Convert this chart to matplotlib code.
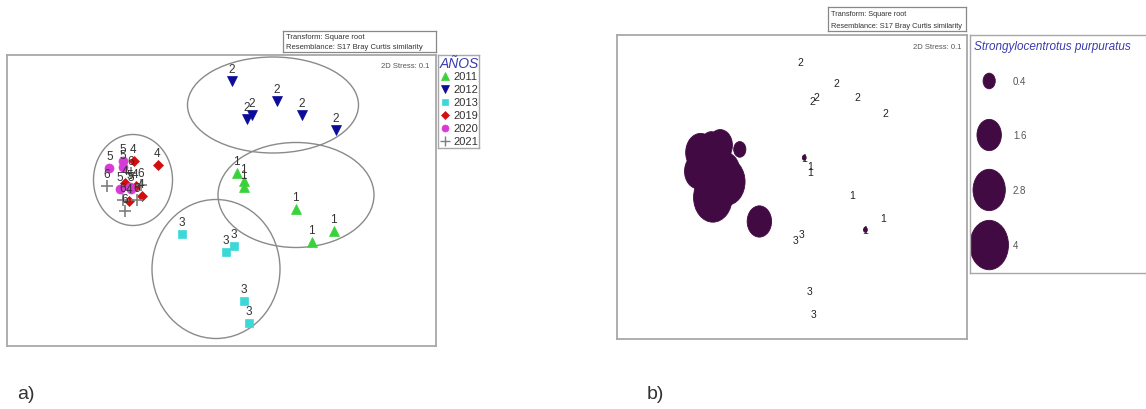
import numpy as np
import matplotlib
matplotlib.use("Agg")
import matplotlib.pyplot as plt
from matplotlib.patches import Ellipse

plt.rcParams['font.family'] = ['Liberation Sans', 'DejaVu Sans']

# nMDS coordinates per year (same ordination in both panels)
years = ['2011', '2012', '2013', '2019', '2020', '2021']
site_labels = ['1', '2', '3', '4', '5', '6']

x_2011 = [0.15, 0.22, 0.22, 0.74, 0.90, 1.12]
y_2011 = [0.28, 0.20, 0.14, -0.08, -0.41, -0.30]
x_2012 = [0.10, 0.25, 0.30, 0.55, 0.80, 1.14]
y_2012 = [1.20, 0.82, 0.86, 1.00, 0.86, 0.71]
x_2013 = [-0.40, 0.04, 0.12, 0.22, 0.27]
y_2013 = [-0.33, -0.51, -0.45, -1.00, -1.22]
x_2019 = [-0.88, -0.64, -0.97, -0.80, -0.93, -0.86]
y_2019 = [0.40, 0.36, 0.18, 0.05, 0.00, 0.15]
x_2020 = [-1.12, -0.99, -0.99, -1.02, -0.91, -0.92]
y_2020 = [0.33, 0.40, 0.34, 0.12, 0.12, 0.14]
x_2021 = [-1.15, -0.97, -0.99, -0.85, -0.91, -0.81]
y_2021 = [0.15, -0.10, 0.01, 0.01, 0.28, 0.16]

# Strongylocentrotus purpuratus abundance (bubble overlay)
sp_2011 = [0.04, 0, 0, 0, 0.04, 0]
sp_2012 = [0, 0, 0, 0, 0, 0]
sp_2013 = [1.6, 0, 0, 0, 0]
sp_2019 = [1.6, 0.4, 2.0, 3.6, 2.8, 2.0]
sp_2020 = [2.4, 1.2, 1.6, 2.8, 2.4, 2.8]
sp_2021 = [2.0, 4.0, 2.8, 2.4, 2.0, 2.0]
bubble_legend = [0.4, 1.6, 2.8, 4]

# similarity clusters (centre x, centre y, width, height)
cluster_cx = [0.515, 0.745, -0.055, -0.885]
cluster_cy = [0.955, 0.055, -0.685, 0.205]
cluster_w = [1.71, 1.56, 1.28, 0.79]
cluster_h = [0.96, 1.05, 1.39, 0.91]

xs = [x_2011, x_2012, x_2013, x_2019, x_2020, x_2021]
ys = [y_2011, y_2012, y_2013, y_2019, y_2020, y_2021]
sps = [sp_2011, sp_2012, sp_2013, sp_2019, sp_2020, sp_2021]

markers = ['^', 'v', 's', 'D', 'o', '+']
colors = ['#3ad23a', '#0c0c99', '#3cd8d8', '#d01010', '#d83ad8', '#7f7f7f']
msizes = [7, 7, 6, 5.5, 6.5, 8]

W, H = 1146, 410
fig = plt.figure(figsize=(W / 100, H / 100), dpi=100)


def px_axes(x0, y0, x1, y1):
    return fig.add_axes([x0 / W, 1 - y1 / H, (x1 - x0) / W, (y1 - y0) / H])


def frame(ax, color='#a8a8a8', lw=1.3):
    ax.set_xticks([])
    ax.set_yticks([])
    for s in ax.spines.values():
        s.set_color(color)
        s.set_linewidth(lw)


XL = (-2.145, 2.145)
YL = (-1.455, 1.455)
bubble_k = 0.2366  # diameter per sqrt(abundance), in ordination units

# ---------- panel a ----------
ax_a = px_axes(7, 56, 436, 347)
ax_a.set_xlim(XL)
ax_a.set_ylim(YL)
frame(ax_a)
for cx, cy, w, h in zip(cluster_cx, cluster_cy, cluster_w, cluster_h):
    ax_a.add_patch(Ellipse((cx, cy), w, h, fill=False, ec='#8a8a8a', lw=1.0))
for i in range(len(years)):
    ax_a.plot(xs[i], ys[i], linestyle='none', marker=markers[i], color=colors[i],
              ms=msizes[i], mew=1.2 if markers[i] == '+' else 0.5)
    for x, y in zip(xs[i], ys[i]):
        ax_a.annotate(site_labels[i], (x, y), xytext=(0, 8), textcoords='offset points',
                      ha='center', va='center', fontsize=8.5, color='#333333')
ax_a.text(0.985, 0.975, '2D Stress: 0.1', transform=ax_a.transAxes, ha='right',
          va='top', fontsize=5.5, color='#555555')

# year legend
ax_l = px_axes(438, 56, 479, 149)
ax_l.set_xlim(0, 41)
ax_l.set_ylim(93, 0)
frame(ax_l, lw=1.0)
ax_l.text(21, 8, 'AÑOS', ha='center', va='center', fontsize=10, style='italic',
          color='#3b3bb0')
for i, yr in enumerate(years):
    yy = 21 + 13 * i
    ax_l.plot([7], [yy], linestyle='none', marker=markers[i], color=colors[i],
              ms=msizes[i] - 1.5, mew=1.0 if markers[i] == '+' else 0.5)
    ax_l.text(15, yy, yr, ha='left', va='center', fontsize=8, color='#333333')

# transform / resemblance box
ax_t = px_axes(283, 32, 436, 53)
frame(ax_t, color='#888888', lw=0.9)
ax_t.text(0.02, 0.72, 'Transform: Square root', transform=ax_t.transAxes,
          ha='left', va='center', fontsize=5.5, color='#333333')
ax_t.text(0.02, 0.25, 'Resemblance: S17 Bray Curtis similarity', transform=ax_t.transAxes,
          ha='left', va='center', fontsize=5.5, color='#333333')

fig.text(17 / W, 1 - 395 / H, 'a)', ha='left', va='center', fontsize=14, color='#333333')

# ---------- panel b ----------
ax_b = px_axes(617, 36, 967, 340)
ax_b.set_xlim(XL)
ax_b.set_ylim(YL)
frame(ax_b)
bub_color = '#420a42'
for i in range(len(years)):
    for x, y, v in zip(xs[i], ys[i], sps[i]):
        ax_b.text(x, y, site_labels[i], ha='center', va='center', fontsize=7.5,
                  color='#222222', zorder=2)
        if v > 0:
            d = bubble_k * np.sqrt(v)
            ax_b.add_patch(Ellipse((x, y), d, d, fc=bub_color, ec=bub_color,
                                   lw=0.6, zorder=3))
ax_b.text(0.985, 0.975, '2D Stress: 0.1', transform=ax_b.transAxes, ha='right',
          va='top', fontsize=5.5, color='#555555')

# bubble size legend, same ordination scale as panel b
ax_bl = px_axes(970, 36, 1150, 274)
ax_bl.set_xlim(0, 180 / 81.6)
ax_bl.set_ylim(238 / 104.5, 0)
frame(ax_bl, lw=1.0)
ax_bl.text(0.02, 0.955, 'Strongylocentrotus purpuratus', transform=ax_bl.transAxes,
           ha='left', va='center', fontsize=8.5, style='italic', color='#3b3bb0')
leg_y = [0.44, 0.957, 1.483, 2.01]
for v, yy in zip(bubble_legend, leg_y):
    d = bubble_k * np.sqrt(v)
    ax_bl.add_patch(Ellipse((0.235, yy), d, d, fc=bub_color, ec=bub_color, lw=0.6))
    ax_bl.text(0.527, yy, f'{v:g}', ha='left', va='center', fontsize=7, color='#555555')

ax_tb = px_axes(828, 8, 966, 32)
frame(ax_tb, color='#888888', lw=0.9)
ax_tb.text(0.02, 0.72, 'Transform: Square root', transform=ax_tb.transAxes,
           ha='left', va='center', fontsize=5.3, color='#333333')
ax_tb.text(0.02, 0.25, 'Resemblance: S17 Bray Curtis similarity', transform=ax_tb.transAxes,
           ha='left', va='center', fontsize=5.3, color='#333333')

fig.text(647 / W, 1 - 395 / H, 'b)', ha='left', va='center', fontsize=14, color='#333333')

fig.savefig('out.png', dpi=100)
